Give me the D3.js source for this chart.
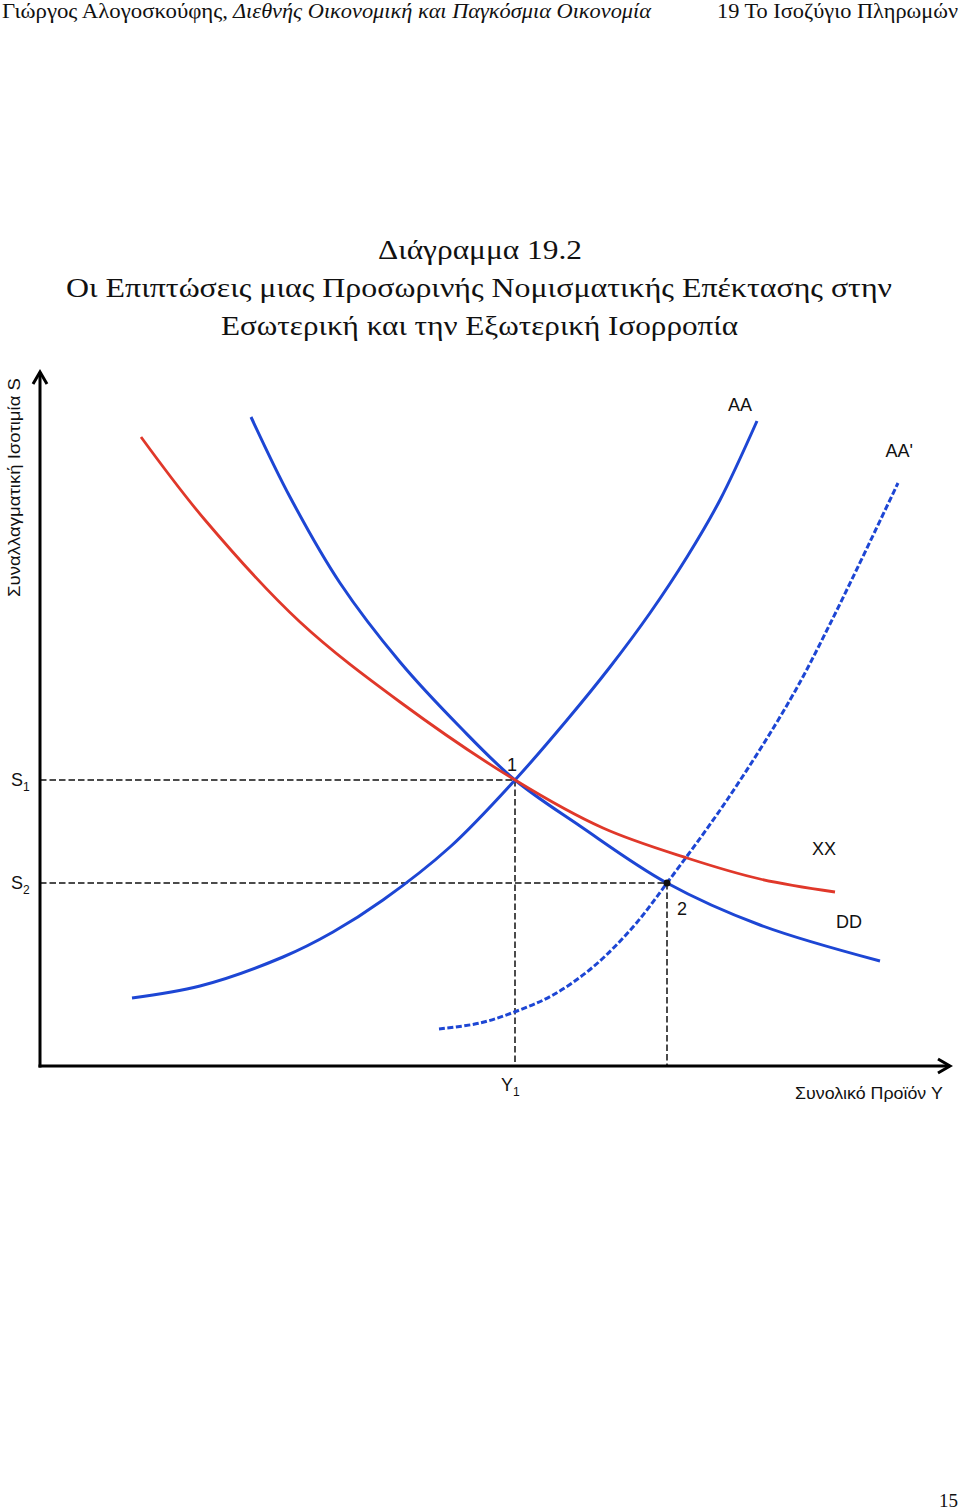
<!DOCTYPE html>
<html><head><meta charset="utf-8">
<script src="https://cdn.jsdelivr.net/npm/d3@7"></script>
<style>html,body{margin:0;padding:0;background:#fff}svg{display:block}</style>
</head><body>
<script>
// ---- data (arbitrary diagram units: output Y on x, exchange rate S on y) ----
const DD = [[211,649],[250,569],[300,483],[360,404],[420,339],[475,286],[540,240],[627,183],[720,141],[840,105]];
const XX = [[101,629],[165,546],[260,444],[360,364],[475,286],[563,238],[647,208],[720,187],[795,174]];
const AA = [[92,68],[160,80],[243,109],[293,134],[343,166],[410,219],[475,286],[527,346],[570,399],[610,453],[647,509],[680,566],[717,645]];
const AA2 = [[399,37],[440,43],[477,55],[513,71],[553,99],[593,139],[627,183],[687,266],[750,366],[790,442],[858,583]];
const eqNames = ["1","2"];
const eqX = [475, 627];
const eqY = [286, 183];
const sTicks = ["S", "S"], sSubs = ["1","2"];
const yTickLabel = "Y", yTickSub = "1";
const curveNames = ["AA","AA'","XX","DD"];
const titleLines = ["Διάγραμμα 19.2","Οι Επιπτώσεις μιας Προσωρινής Νομισματικής Επέκτασης στην","Εσωτερική και την Εξωτερική Ισορροπία"];
const xAxisTitle = "Συνολικό Προϊόν Y";
const yAxisTitle = "Συναλλαγματική Ισοτιμία S";

const W = 960, H = 1512;
const svg = d3.select("body").append("svg").attr("width", W).attr("height", H);

// header
const sans = "'Liberation Sans', Arial, sans-serif";
const serif = "'Liberation Serif', 'DejaVu Serif', serif";
svg.append("text").attr("x", 2).attr("y", 18).attr("font-family", serif).attr("font-size", 20)
  .attr("textLength", 226).attr("lengthAdjust", "spacingAndGlyphs").attr("fill", "#111")
  .text("Γιώργος Αλογοσκούφης,");
svg.append("text").attr("x", 233).attr("y", 18).attr("font-family", serif).attr("font-size", 20)
  .attr("font-style", "italic").attr("textLength", 418).attr("lengthAdjust", "spacingAndGlyphs").attr("fill", "#111")
  .text("Διεθνής Οικονομική και Παγκόσμια Οικονομία");
svg.append("text").attr("x", 717).attr("y", 18).attr("font-family", serif).attr("font-size", 20)
  .attr("textLength", 241).attr("lengthAdjust", "spacingAndGlyphs").attr("fill", "#111")
  .text("19 Το Ισοζύγιο Πληρωμών");
svg.append("text").attr("x", 958).attr("y", 1507).attr("text-anchor", "end").attr("font-family", serif)
  .attr("font-size", 19).attr("fill", "#111").text("15");

// title
const tl = [[378, 204, 259], [66, 826, 297], [221, 517, 335]];
titleLines.forEach((t, i) => {
  svg.append("text").attr("x", tl[i][0]).attr("y", tl[i][2]).attr("font-family", serif)
    .attr("font-size", 28).attr("textLength", tl[i][1]).attr("lengthAdjust", "spacingAndGlyphs")
    .attr("fill", "#111").text(t);
});

// scales
const x = d3.scaleLinear().domain([0, 912]).range([40, 952]);
const y = d3.scaleLinear().domain([0, 696]).range([1066, 370]);

const g = svg.append("g");
const line = d3.line().x(d => x(d[0])).y(d => y(d[1])).curve(d3.curveCatmullRom.alpha(0.5));

// guide dashed lines
const guide = g.append("g").attr("stroke", "#111").attr("stroke-width", 1.5).attr("stroke-dasharray", "6.5,3").attr("fill", "none");
eqX.forEach((ex, i) => {
  guide.append("line").attr("x1", x(0)).attr("x2", x(ex)).attr("y1", y(eqY[i])).attr("y2", y(eqY[i]));
  guide.append("line").attr("x1", x(ex)).attr("x2", x(ex)).attr("y1", y(eqY[i])).attr("y2", y(0));
});

// curves
const blue = "#1d46d4", red = "#e0382a";
g.append("path").datum(DD).attr("d", line).attr("fill", "none").attr("stroke", blue).attr("stroke-width", 3);
g.append("path").datum(AA).attr("d", line).attr("fill", "none").attr("stroke", blue).attr("stroke-width", 3);
g.append("path").datum(AA2).attr("d", line).attr("fill", "none").attr("stroke", blue).attr("stroke-width", 3).attr("stroke-dasharray", "6,2.5");
g.append("path").datum(XX).attr("d", line).attr("fill", "none").attr("stroke", red).attr("stroke-width", 2.8);

// equilibrium 2 dot
g.append("circle").attr("cx", x(eqX[1])).attr("cy", y(eqY[1])).attr("r", 3.5).attr("fill", "#111");

// axes
const ax = g.append("g").attr("stroke", "#000").attr("stroke-width", 3).attr("fill", "none");
ax.append("line").attr("x1", x(0)).attr("x2", x(0)).attr("y1", y(0) + 1.5).attr("y2", y(696) + 2);
ax.append("line").attr("x1", x(0) - 1.5).attr("x2", x(912) - 2).attr("y1", y(0)).attr("y2", y(0));
ax.append("polyline").attr("stroke-linejoin", "miter")
  .attr("points", [[x(0) - 7, y(696) + 14], [x(0), y(696) + 2], [x(0) + 7, y(696) + 14]].map(p => p.join(",")).join(" "));
ax.append("polyline").attr("stroke-linejoin", "miter")
  .attr("points", [[x(912) - 14, y(0) - 7], [x(912) - 2, y(0)], [x(912) - 14, y(0) + 7]].map(p => p.join(",")).join(" "));

// tick labels S1, S2
const lab = g.append("g").attr("font-family", sans).attr("fill", "#111");
eqY.forEach((ey, i) => {
  const t = lab.append("text").attr("x", 11).attr("y", y(ey) + 6).attr("font-size", 18);
  t.append("tspan").text(sTicks[i]);
  t.append("tspan").attr("font-size", 12).attr("dy", 5).text(sSubs[i]);
});
{
  const t = lab.append("text").attr("x", x(eqX[0]) - 14).attr("y", y(0) + 25).attr("font-size", 18);
  t.append("tspan").text(yTickLabel);
  t.append("tspan").attr("font-size", 12).attr("dy", 5).text(yTickSub);
}
// point labels
lab.append("text").attr("x", x(eqX[0]) - 8).attr("y", y(eqY[0]) - 9).attr("font-size", 18).text(eqNames[0]);
lab.append("text").attr("x", x(eqX[1]) + 10).attr("y", y(eqY[1]) + 32).attr("font-size", 18).text(eqNames[1]);

// curve labels, placed relative to curve endpoints
const lastAA = AA[AA.length - 1], lastAA2 = AA2[AA2.length - 1], lastXX = XX[XX.length - 1], lastDD = DD[DD.length - 1];
lab.append("text").attr("x", x(lastAA[0]) - 5).attr("y", y(lastAA[1]) - 10).attr("text-anchor", "end").attr("font-size", 18).text(curveNames[0]);
lab.append("text").attr("x", x(lastAA2[0]) + 15).attr("y", y(lastAA2[1]) - 26).attr("text-anchor", "end").attr("font-size", 18).text(curveNames[1]);
lab.append("text").attr("x", x(lastXX[0]) - 23).attr("y", y(lastXX[1]) - 37).attr("font-size", 18).text(curveNames[2]);
lab.append("text").attr("x", x(lastDD[0]) - 44).attr("y", y(lastDD[1]) - 33).attr("font-size", 18).text(curveNames[3]);

// axis titles
lab.append("text").attr("x", 795).attr("y", 1099).attr("font-size", 17)
  .attr("textLength", 148).attr("lengthAdjust", "spacingAndGlyphs").text(xAxisTitle);
lab.append("text").attr("transform", "translate(20,597) rotate(-90)").attr("font-size", 17)
  .attr("textLength", 219).attr("lengthAdjust", "spacingAndGlyphs").text(yAxisTitle);
</script>
</body></html>
